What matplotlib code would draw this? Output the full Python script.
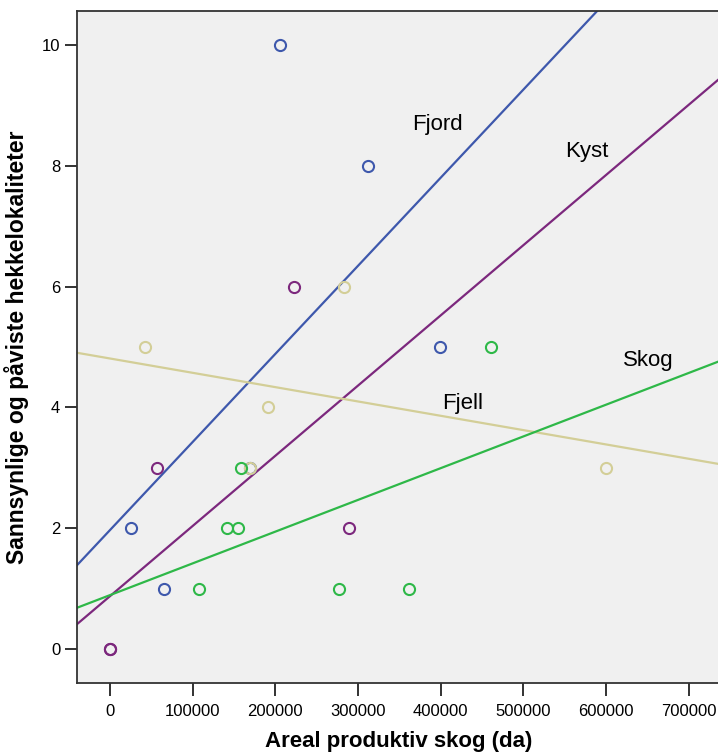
import numpy as np
import matplotlib
matplotlib.use("Agg")
import matplotlib.pyplot as plt

plt.rcParams['font.family'] = ['Liberation Sans', 'DejaVu Sans']

# areal produktiv skog (da) / antall hekkelokaliteter per region
fjord_x = [205800, 312000, 399500, 25400, 65400, 169500]
fjord_y = [10, 8, 5, 2, 1, 3]
kyst_x = [222800, 56900, 289300, 0, 0]
kyst_y = [6, 3, 2, 0, 0]
fjell_x = [42400, 283300, 191300, 169500, 599300]
fjell_y = [5, 6, 4, 3, 3]
skog_x = [461300, 158600, 141600, 155000, 107700, 277200, 362000]
skog_y = [5, 3, 2, 2, 1, 1, 1]

groups = [
    ("Fjord", fjord_x, fjord_y, "#3e58ac", (396000, 8.68)),
    ("Kyst", kyst_x, kyst_y, "#7c287d", (576000, 8.23)),
    ("Fjell", fjell_x, fjell_y, "#d3ce97", (427000, 4.07)),
    ("Skog", skog_x, skog_y, "#2eb848", (651000, 4.78)),
]

fig = plt.figure(figsize=(7.18, 7.53), dpi=100)
ax = fig.add_axes([77 / 718, 1 - 683 / 753, 1 - 77 / 718 + 0.002, (683 - 11) / 753])
ax.set_facecolor("#f0f0f0")

xmin, xmax = -40000, 737000
xs = np.array([xmin, xmax])
for name, x, y, color, pos in groups:
    ax.plot(x, y, "o", mfc="none", mec=color, ms=8, mew=1.5, zorder=3)
    slope, icept = np.polyfit(x, y, 1)
    ax.plot(xs, icept + slope * xs, color=color, lw=1.6, zorder=2)
    ax.text(pos[0], pos[1], name, fontsize=16, ha="center", va="center")

ax.set_xlim(xmin, xmax)
ax.set_ylim(-0.56, 10.56)
ax.set_xticks(range(0, 700001, 100000))
ax.set_yticks(range(0, 11, 2))
ax.tick_params(length=9, width=1.3, labelsize=12, color="#222222")
ax.tick_params(axis="x", pad=6)
ax.tick_params(axis="y", pad=3)

for side in ["left", "bottom", "top"]:
    ax.spines[side].set_linewidth(1.3)
    ax.spines[side].set_color("#333333")
ax.spines["right"].set_visible(False)

ax.set_xlabel("Areal produktiv skog (da)", fontsize=16, fontweight="bold", labelpad=9)
ax.set_ylabel("Sannsynlige og påviste hekkelokaliteter", fontsize=16.5, fontweight="bold", labelpad=9)

fig.savefig("out.png", dpi=100)
